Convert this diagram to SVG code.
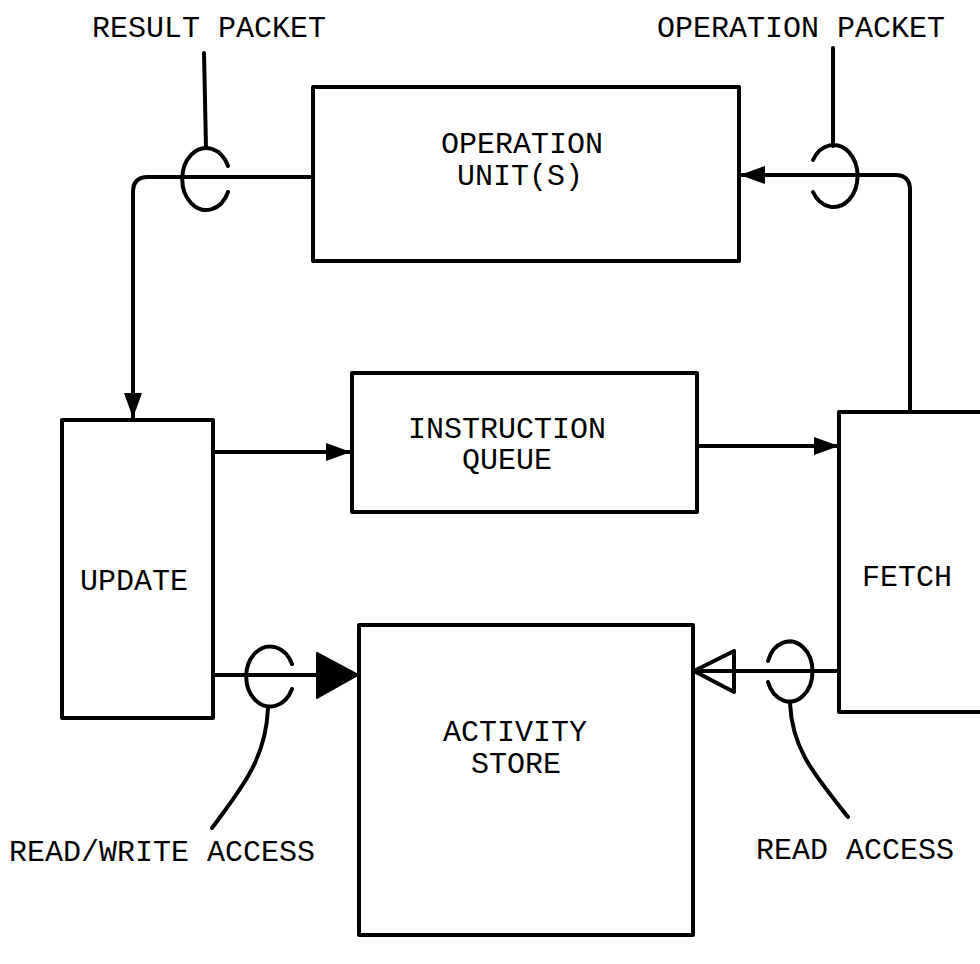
<svg xmlns="http://www.w3.org/2000/svg" width="980" height="964" viewBox="0 0 980 964">
<style>
.box{fill:none;stroke:#000;stroke-width:4;stroke-linejoin:round}
.ln{fill:none;stroke:#000;stroke-width:4;stroke-linecap:round;stroke-linejoin:round}
.t{font-family:"Liberation Mono","Courier New",monospace;font-size:30px;fill:#000}
</style>
<defs>
<marker id="ah" markerUnits="userSpaceOnUse" markerWidth="28" markerHeight="22" refX="25" refY="10" orient="auto">
<path d="M0,1 L25,10 L0,19 Z" fill="#000"/>
</marker>
</defs>
<rect width="980" height="964" fill="#fff"/>
<g id="connectors">
<path class="ln" d="M313,177 H148 Q133,177 133,192 V418" marker-end="url(#ah)"/>
<path class="ln" d="M204,53 L206,148"/>
<path class="ln" d="M228,166 A24 31 0 1 0 228,192"/>
<path class="ln" d="M910,412 V190 Q910,175 895,175 H740" marker-end="url(#ah)"/>
<path class="ln" d="M833,48 L833,146"/>
<path class="ln" d="M813,160 A24 31 0 1 1 813,192"/>
<path class="ln" d="M213,452 H351" marker-end="url(#ah)"/>
<path class="ln" d="M697,446 H839" marker-end="url(#ah)"/>
<path class="ln" d="M213,675 H330"/>
<path d="M317,653 L358,675 L317,698 Z" fill="#000" stroke="#000" stroke-width="2" stroke-linejoin="round"/>
<path class="ln" d="M292,664 A24 30 0 1 0 292,689"/>
<path class="ln" d="M268,708 C266,760 240,790 212,828"/>
<path class="ln" d="M839,671 H694"/>
<path class="ln" d="M694,671 L734,651 L734,692 Z"/>
<path class="ln" d="M768,661 A23 30 0 1 1 768,682"/>
<path class="ln" d="M790,703 C792,750 815,775 848,817"/>
</g>
<g id="operation-unit">
<rect class="box" x="313" y="87" width="426" height="174"/>
<text class="t" x="441" y="153">OPERATION</text>
<text class="t" x="457" y="185">UNIT(S)</text>
</g>
<g id="instruction-queue">
<rect class="box" x="352" y="373" width="345" height="139"/>
<text class="t" x="408" y="438">INSTRUCTION</text>
<text class="t" x="462" y="469">QUEUE</text>
</g>
<g id="update">
<rect class="box" x="62" y="420" width="151" height="298"/>
<text class="t" x="80" y="590">UPDATE</text>
</g>
<g id="fetch">
<rect class="box" x="839" y="412" width="160" height="300"/>
<text class="t" x="862" y="586">FETCH</text>
</g>
<g id="activity-store">
<rect class="box" x="359" y="625" width="334" height="310"/>
<text class="t" x="443" y="741">ACTIVITY</text>
<text class="t" x="471" y="773">STORE</text>
</g>
<g id="labels">
<text class="t" x="92" y="37">RESULT PACKET</text>
<text class="t" x="657" y="37">OPERATION PACKET</text>
<text class="t" x="9" y="861">READ/WRITE ACCESS</text>
<text class="t" x="756" y="859">READ ACCESS</text>
</g>
</svg>
